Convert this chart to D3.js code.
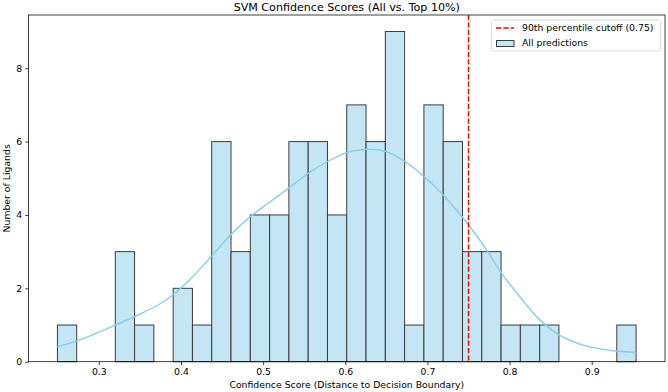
<!DOCTYPE html>
<html><head><meta charset="utf-8">
<script src="https://cdn.jsdelivr.net/npm/d3@7"></script>
<style>
body{margin:0;background:#fff}
svg{display:block}
text{font-family:"DejaVu Sans",sans-serif;fill:#000}
</style>
</head><body>
<svg id="c" width="668" height="392"></svg>
<script>
// ---- data ----
const binStart = 0.2496;
const binWidth = 0.02348;
const counts = [1,0,0,3,1,0,2,1,6,3,4,4,6,6,4,7,6,9,1,7,6,3,3,1,1,1,0,0,0,1];
const kdeX = [0.2496,0.2736,0.3202,0.3502,0.3746,0.3908,0.4111,0.4366,0.4597,0.4841,0.5074,0.5310,0.5553,0.5780,0.6016,0.6178,0.6256,0.6496,0.6731,0.6959,0.7152,0.7436,0.7720,0.7903,0.8125,0.8369,0.8603,0.8855,0.9100,0.9302,0.9545];
const kdeY = [0.41,0.57,1.00,1.30,1.58,1.83,2.25,2.86,3.44,3.95,4.34,4.73,5.14,5.45,5.70,5.77,5.79,5.73,5.45,5.05,4.64,3.91,3.05,2.41,1.77,1.14,0.73,0.48,0.35,0.29,0.25];
const cutoff = 0.75;
const xTicks = [0.3,0.4,0.5,0.6,0.7,0.8,0.9];
const yTicks = [0,2,4,6,8];
const title = "SVM Confidence Scores (All vs. Top 10%)";
const xLabel = "Confidence Score (Distance to Decision Boundary)";
const yLabel = "Number of Ligands";
const legendItems = ["90th percentile cutoff (0.75)", "All predictions"];

// ---- layout ----
const L = 28.5, R = 665, T = 15, B = 361.7;
const svg = d3.select("#c");
const x = d3.scaleLinear().domain([0.2144, 0.9892]).range([L, R]);
const y = d3.scaleLinear().domain([0, 9.45]).range([B, T]);

const bins = counts.map((c, i) => ({x0: binStart + i*binWidth, x1: binStart + (i+1)*binWidth, c}));

// bars
svg.append("g").selectAll("rect").data(bins.filter(d => d.c > 0)).join("rect")
  .attr("x", d => x(d.x0)).attr("width", d => x(d.x1) - x(d.x0))
  .attr("y", d => y(d.c)).attr("height", d => y(0) - y(d.c))
  .attr("fill", "#c3e5f4").attr("stroke", "#3c3c3c").attr("stroke-width", 1);

// kde
const line = d3.line().x((d,i) => x(kdeX[i])).y(d => y(d)).curve(d3.curveCatmullRom.alpha(0.5));
svg.append("path").datum(kdeY).attr("d", line)
  .attr("fill", "none").attr("stroke", "#87ceeb").attr("stroke-width", 1.4);

// cutoff
svg.append("line").attr("x1", x(cutoff)).attr("x2", x(cutoff)).attr("y1", T).attr("y2", B)
  .attr("stroke", "#ff0000").attr("stroke-width", 1.4).attr("stroke-dasharray", "5.2,2.2");

// axes
const xAxis = d3.axisBottom(x).tickValues(xTicks).tickFormat(d3.format(".1f")).tickSize(3.3).tickPadding(3);
const yAxis = d3.axisLeft(y).tickValues(yTicks).tickFormat(d3.format("d")).tickSize(3.3).tickPadding(3);
const gx = svg.append("g").attr("transform", `translate(0,${B})`).call(xAxis);
const gy = svg.append("g").attr("transform", `translate(${L},0)`).call(yAxis);
[gx, gy].forEach(g => {
  g.select(".domain").remove();
  g.selectAll("line").attr("stroke", "#000").attr("stroke-width", 0.75);
  g.selectAll("text").attr("font-size", 9.3).attr("font-family", "DejaVu Sans").attr("fill", "#000");
});

// frame
svg.append("rect").attr("x", L).attr("y", T).attr("width", R - L).attr("height", B - T)
  .attr("fill", "none").attr("stroke", "#000").attr("stroke-width", 0.75);

// texts
svg.append("text").attr("x", (L+R)/2).attr("y", 11).attr("text-anchor", "middle")
  .attr("font-size", 11.1).text(title);
svg.append("text").attr("x", (L+R)/2).attr("y", 388).attr("text-anchor", "middle")
  .attr("font-size", 9.3).text(xLabel);
svg.append("text").attr("transform", `translate(10,${(T+B)/2}) rotate(-90)`).attr("text-anchor", "middle")
  .attr("font-size", 9.3).text(yLabel);

// legend
const lg = svg.append("g");
lg.append("rect").attr("x", 491.5).attr("y", 20).attr("width", 169).attr("height", 31).attr("rx", 2)
  .attr("fill", "#fff").attr("fill-opacity", 0.8).attr("stroke", "#d0d0d0").attr("stroke-width", 0.75);
lg.append("line").attr("x1", 496).attr("x2", 514).attr("y1", 28).attr("y2", 28)
  .attr("stroke", "#ff0000").attr("stroke-width", 1.4).attr("stroke-dasharray", "5.2,2.2");
lg.append("rect").attr("x", 496.5).attr("y", 40.5).attr("width", 17.5).attr("height", 6)
  .attr("fill", "#c3e5f4").attr("stroke", "#3c3c3c").attr("stroke-width", 1);
lg.selectAll("text.l").data(legendItems).join("text").attr("class", "l")
  .attr("x", 522).attr("y", (d,i) => 31.3 + i*15).attr("font-size", 9.3).text(d => d);
</script>
</body></html>
